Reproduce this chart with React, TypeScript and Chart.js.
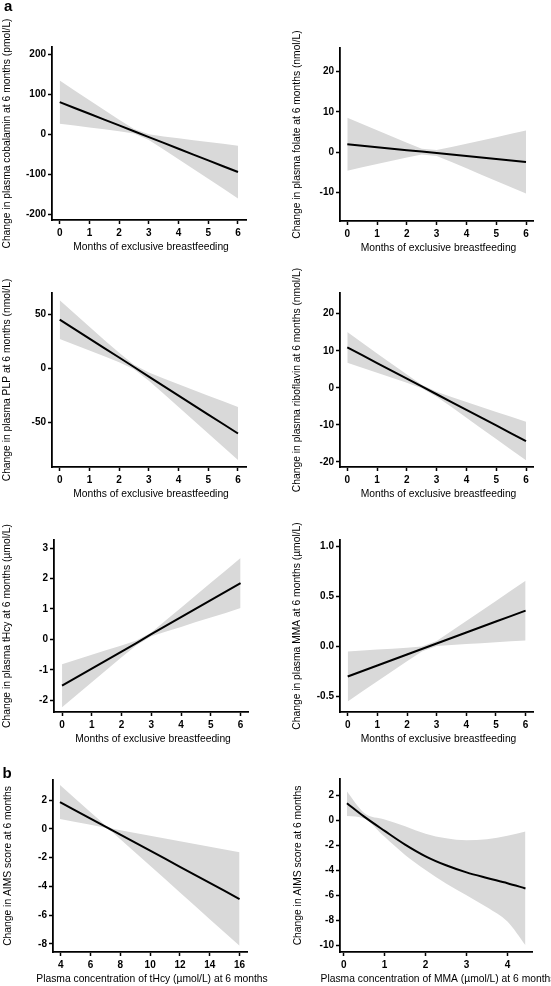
import React, { useEffect, useRef } from "react";
import { Chart, registerables } from "chart.js";

Chart.register(...registerables);

const FONT = "'Liberation Sans', Arial, Helvetica, sans-serif";

// ---------- data ----------
const months = [0, 0.5, 1, 1.5, 2, 2.5, 3, 3.5, 4, 4.5, 5, 5.5, 6];
const monthTicks = [0, 1, 2, 3, 4, 5, 6];

const cobalaminFit = [80, 65.4, 50.8, 36.2, 21.7, 7.1, -7.5, -22.1, -36.7, -51.3, -65.8, -80.4, -95];
const cobalaminUpper = [134, 109.4, 84.9, 60.4, 36.2, 12.7, -0.3, -5.7, -10.5, -15.2, -19.8, -24.4, -29.1];
const cobalaminLower = [26, 21.4, 16.7, 12.0, 7.2, 1.5, -14.7, -38.5, -62.9, -87.4, -111.8, -136.4, -160.9];
const cobalaminTicks = [-200, -100, 0, 100, 200];

const folateFit = [2.0, 1.63, 1.27, 0.9, 0.53, 0.17, -0.2, -0.57, -0.93, -1.3, -1.67, -2.03, -2.4];
const folateUpper = [8.55, 6.99, 5.44, 3.88, 2.34, 0.86, 0.54, 1.29, 2.11, 2.93, 3.75, 4.58, 5.4];
const folateLower = [-4.55, -3.73, -2.9, -2.08, -1.28, -0.52, -0.94, -2.43, -3.97, -5.53, -7.09, -8.64, -10.2];
const folateTicks = [-10, 0, 10, 20];

const plpFit = [45.4, 36.6, 27.8, 19.0, 10.3, 1.5, -7.3, -16.1, -24.9, -33.7, -42.5, -51.2, -60];
const plpUpper = [63.4, 51.1, 38.8, 26.6, 14.6, 3.5, -3.5, -9.0, -14.4, -19.7, -25.0, -30.2, -35.5];
const plpLower = [27.4, 22.1, 16.8, 11.4, 6.0, -0.5, -11.1, -23.2, -35.4, -47.7, -60.0, -72.2, -84.5];
const plpTicks = [-50, 0, 50];

const riboFit = [10.9, 8.79, 6.68, 4.57, 2.47, 0.36, -1.75, -3.86, -5.97, -8.08, -10.18, -12.29, -14.4];
const riboUpper = [15.05, 12.16, 9.29, 6.41, 3.57, 0.83, -1.09, -2.5, -3.85, -5.19, -6.53, -7.86, -9.2];
const riboLower = [6.75, 5.42, 4.07, 2.73, 1.37, -0.11, -2.41, -5.22, -8.09, -10.97, -13.83, -16.72, -19.6];
const riboTicks = [-20, -10, 0, 10, 20];

const hcyFit = [-1.52, -1.24, -0.96, -0.68, -0.4, -0.12, 0.17, 0.45, 0.73, 1.01, 1.29, 1.57, 1.85];
const hcyUpper = [-0.82, -0.66, -0.51, -0.35, -0.2, -0.04, 0.23, 0.64, 1.04, 1.45, 1.86, 2.27, 2.68];
const hcyLower = [-2.23, -1.82, -1.41, -1.0, -0.59, -0.19, 0.1, 0.26, 0.41, 0.57, 0.72, 0.87, 1.03];
const hcyTicks = [-2, -1, 0, 1, 2, 3];

const mmaFit = [-0.3, -0.245, -0.19, -0.135, -0.08, -0.025, 0.03, 0.085, 0.14, 0.195, 0.25, 0.305, 0.36];
const mmaUpper = [-0.05, -0.041, -0.031, -0.022, -0.012, -0.001, 0.056, 0.156, 0.256, 0.357, 0.457, 0.558, 0.659];
const mmaLower = [-0.55, -0.449, -0.349, -0.248, -0.148, -0.049, 0.004, 0.014, 0.024, 0.033, 0.043, 0.052, 0.061];
const mmaTicks = [-0.5, 0, 0.5, 1.0];

const hcyConc = [3.95, 5, 6, 6.5, 7, 7.5, 8, 9, 10, 11, 12, 13, 14, 15, 16];
const hcyConcTicks = [4, 6, 8, 10, 12, 14, 16];
const aimsHcyFit = [1.86, 1.27, 0.71, 0.43, 0.15, -0.13, -0.41, -0.96, -1.52, -2.08, -2.64, -3.2, -3.76, -4.32, -4.88];
const aimsHcyUpper = [3.05, 2.07, 1.15, 0.69, 0.23, 0.01, -0.1, -0.29, -0.48, -0.67, -0.86, -1.06, -1.25, -1.44, -1.63];
const aimsHcyLower = [0.68, 0.48, 0.28, 0.18, 0.07, -0.26, -0.72, -1.64, -2.57, -3.49, -4.42, -5.35, -6.28, -7.2, -8.13];
const aimsHcyTicks = [-8, -6, -4, -2, 0, 2];

const mmaConc = [0.08, 0.5, 1, 1.5, 2, 2.5, 3, 3.5, 4, 4.44];
const mmaConcTicks = [0, 1, 2, 3, 4];
const aimsMmaFit = [1.4, 0.32, -0.82, -1.92, -2.86, -3.58, -4.15, -4.6, -5.02, -5.44];
const aimsMmaUpper = [2.33, 0.62, 0.1, -0.45, -1.05, -1.42, -1.58, -1.5, -1.22, -0.88];
const aimsMmaLower = [0.38, 0.18, -1.3, -2.76, -3.97, -5.04, -5.98, -6.95, -8.1, -10.0];
const aimsMmaTicks = [-10, -8, -6, -4, -2, 0, 2];

const monthsTitle = "Months of exclusive breastfeeding";

// ---------- panel layout ----------
type Panel = {
  canvas: { left: number; top: number; width: number; height: number };
  area: { left: number; top: number; right: number; bottom: number };
  xs: number[];
  fit: number[];
  upper: number[];
  lower: number[];
  xRange: [number, number];
  yRange: [number, number];
  xTicks: number[];
  yTicks: number[];
  decimals: number;
  xTitle: string;
  yTitle: string;
  yTitleOffset: number;
  smooth: boolean;
};

const LEFT_W = 280;
const RIGHT_L = 275;
const RIGHT_W = 276;

const panels: Panel[] = [
  {
    canvas: { left: 0, top: 0, width: LEFT_W, height: 262 },
    area: { left: 52, top: 47, right: 246, bottom: 220 },
    xs: months, fit: cobalaminFit, upper: cobalaminUpper, lower: cobalaminLower,
    xRange: [-0.26, 6.27], yRange: [-215, 218], xTicks: monthTicks, yTicks: cobalaminTicks, decimals: 0,
    xTitle: monthsTitle, yTitle: "Change in plasma cobalamin at 6 months (pmol/L)", yTitleOffset: 45, smooth: false,
  },
  {
    canvas: { left: RIGHT_L, top: 0, width: RIGHT_W, height: 262 },
    area: { left: 340, top: 48, right: 533, bottom: 221 },
    xs: months, fit: folateFit, upper: folateUpper, lower: folateLower,
    xRange: [-0.245, 6.235], yRange: [-17, 25.8], xTicks: monthTicks, yTicks: folateTicks, decimals: 0,
    xTitle: monthsTitle, yTitle: "Change in plasma folate at 6 months (nmol/L)", yTitleOffset: 43, smooth: false,
  },
  {
    canvas: { left: 0, top: 262, width: LEFT_W, height: 245 },
    area: { left: 52, top: 293, right: 246, bottom: 467 },
    xs: months, fit: plpFit, upper: plpUpper, lower: plpLower,
    xRange: [-0.26, 6.27], yRange: [-91, 70], xTicks: monthTicks, yTicks: plpTicks, decimals: 0,
    xTitle: monthsTitle, yTitle: "Change in plasma PLP at 6 months (nmol/L)", yTitleOffset: 45, smooth: false,
  },
  {
    canvas: { left: RIGHT_L, top: 262, width: RIGHT_W, height: 245 },
    area: { left: 340, top: 293, right: 533, bottom: 467 },
    xs: months, fit: riboFit, upper: riboUpper, lower: riboLower,
    xRange: [-0.245, 6.235], yRange: [-21.4, 25.6], xTicks: monthTicks, yTicks: riboTicks, decimals: 0,
    xTitle: monthsTitle, yTitle: "Change in plasma riboflavin at 6 months (nmol/L)", yTitleOffset: 43, smooth: false,
  },
  {
    canvas: { left: 0, top: 507, width: LEFT_W, height: 246 },
    area: { left: 54, top: 540, right: 248, bottom: 712 },
    xs: months, fit: hcyFit, upper: hcyUpper, lower: hcyLower,
    xRange: [-0.27, 6.25], yRange: [-2.39, 3.27], xTicks: monthTicks, yTicks: hcyTicks, decimals: 0,
    xTitle: monthsTitle, yTitle: "Change in plasma tHcy at 6 months (µmol/L)", yTitleOffset: 47, smooth: false,
  },
  {
    canvas: { left: RIGHT_L, top: 507, width: RIGHT_W, height: 246 },
    area: { left: 340, top: 540, right: 533, bottom: 712 },
    xs: months, fit: mmaFit, upper: mmaUpper, lower: mmaLower,
    xRange: [-0.26, 6.25], yRange: [-0.656, 1.067], xTicks: monthTicks, yTicks: mmaTicks, decimals: 1,
    xTitle: monthsTitle, yTitle: "Change in plasma MMA at 6 months (µmol/L)", yTitleOffset: 43, smooth: false,
  },
  {
    canvas: { left: 0, top: 753, width: LEFT_W, height: 233 },
    area: { left: 53, top: 780, right: 247, bottom: 952 },
    xs: hcyConc, fit: aimsHcyFit, upper: aimsHcyUpper, lower: aimsHcyLower,
    xRange: [3.48, 16.5], yRange: [-8.56, 3.39], xTicks: hcyConcTicks, yTicks: aimsHcyTicks, decimals: 0,
    xTitle: "Plasma concentration of tHcy (µmol/L) at 6 months", yTitle: "Change in AIMS score at 6 months", yTitleOffset: 45, smooth: false,
  },
  {
    canvas: { left: RIGHT_L, top: 753, width: RIGHT_W, height: 233 },
    area: { left: 340, top: 779, right: 532, bottom: 952 },
    xs: mmaConc, fit: aimsMmaFit, upper: aimsMmaUpper, lower: aimsMmaLower,
    xRange: [-0.09, 4.6], yRange: [-10.54, 3.34], xTicks: mmaConcTicks, yTicks: aimsMmaTicks, decimals: 0,
    xTitle: "Plasma concentration of MMA (µmol/L) at 6 months", yTitle: "Change in AIMS score at 6 months", yTitleOffset: 42, smooth: true,
  },
];

// ---------- axis titles plugin ----------
const axisTitles = {
  id: "axisTitles",
  afterDraw(chart: any, _args: any, opts: any) {
    const { ctx, chartArea } = chart;
    ctx.save();
    ctx.fillStyle = "#000";
    ctx.font = `10.3px ${FONT}`;
    ctx.textAlign = "center";
    ctx.textBaseline = "middle";
    ctx.fillText(opts.xText, (chartArea.left + chartArea.right) / 2 + 2, chartArea.bottom + 27);
    ctx.translate(chartArea.left - opts.yOffset, (chartArea.top + chartArea.bottom) / 2);
    ctx.rotate(-Math.PI / 2);
    ctx.fillText(opts.yText, 0, 0);
    ctx.restore();
  },
};

const pts = (xs: number[], ys: number[]) => xs.map((x, i) => ({ x, y: ys[i] }));

function PanelChart({ p }: { p: Panel }) {
  const ref = useRef<HTMLCanvasElement | null>(null);
  useEffect(() => {
    const c = p.canvas;
    const a = p.area;
    const curve = p.smooth ? { cubicInterpolationMode: "monotone" } : { tension: 0 };
    const chart = new Chart(ref.current as HTMLCanvasElement, {
      type: "line",
      data: {
        datasets: [
          {
            data: pts(p.xs, p.fit),
            borderColor: "#000",
            borderWidth: 2,
            pointRadius: 0,
            fill: false,
            ...curve,
          },
          {
            data: pts(p.xs, p.upper),
            borderColor: "rgba(0,0,0,0)",
            borderWidth: 0,
            pointRadius: 0,
            backgroundColor: "#d9d9d9",
            fill: "+1",
            ...curve,
          },
          {
            data: pts(p.xs, p.lower),
            borderColor: "rgba(0,0,0,0)",
            borderWidth: 0,
            pointRadius: 0,
            fill: false,
            ...curve,
          },
        ],
      } as any,
      options: {
        animation: false,
        responsive: false,
        events: [],
        layout: {
          padding: {
            left: 0,
            bottom: 0,
            top: a.top - c.top,
            right: c.left + c.width - a.right,
          },
        },
        plugins: {
          legend: { display: false },
          tooltip: { enabled: false },
          axisTitles: { xText: p.xTitle, yText: p.yTitle, yOffset: p.yTitleOffset },
        } as any,
        scales: {
          x: {
            type: "linear",
            min: p.xRange[0],
            max: p.xRange[1],
            afterBuildTicks: (s: any) => {
              s.ticks = p.xTicks.map((v) => ({ value: v }));
            },
            afterFit: (s: any) => {
              s.height = c.top + c.height - a.bottom;
            },
            grid: {
              display: true,
              drawOnChartArea: false,
              drawTicks: true,
              tickLength: 4,
              tickWidth: 1.5,
              tickColor: "#000",
              color: "#000",
            },
            border: { display: true, color: "#000", width: 1.8 },
            ticks: {
              color: "#000",
              padding: 3,
              maxRotation: 0,
              autoSkip: false,
              font: { family: FONT, size: 10, weight: "bold" },
              callback: (v: any) => String(v),
            },
          },
          y: {
            type: "linear",
            min: p.yRange[0],
            max: p.yRange[1],
            afterBuildTicks: (s: any) => {
              s.ticks = p.yTicks.map((v) => ({ value: v }));
            },
            afterFit: (s: any) => {
              s.width = a.left - c.left;
            },
            grid: {
              display: true,
              drawOnChartArea: false,
              drawTicks: true,
              tickLength: 4,
              tickWidth: 1.5,
              tickColor: "#000",
              color: "#000",
            },
            border: { display: true, color: "#000", width: 1.8 },
            ticks: {
              color: "#000",
              padding: 2,
              autoSkip: false,
              font: { family: FONT, size: 10, weight: "bold" },
              callback: (v: any) => Number(v).toFixed(p.decimals),
            },
          },
        },
      } as any,
      plugins: [axisTitles as any],
    });
    return () => chart.destroy();
  }, [p]);
  return (
    <canvas
      ref={ref}
      width={p.canvas.width}
      height={p.canvas.height}
      style={{
        position: "absolute",
        left: p.canvas.left,
        top: p.canvas.top,
        width: p.canvas.width,
        height: p.canvas.height,
      }}
    />
  );
}

export default function App() {
  return (
    <div
      style={{
        position: "absolute",
        left: 0,
        top: 0,
        width: 551,
        height: 986,
        background: "#fff",
        overflow: "hidden",
      }}
    >
      {panels.map((p, i) => (
        <PanelChart key={i} p={p} />
      ))}
      <div style={{ position: "absolute", left: 4, top: -3, font: `bold 15px ${FONT}`, color: "#000" }}>a</div>
      <div style={{ position: "absolute", left: 2.5, top: 764, font: `bold 15px ${FONT}`, color: "#000" }}>b</div>
    </div>
  );
}
